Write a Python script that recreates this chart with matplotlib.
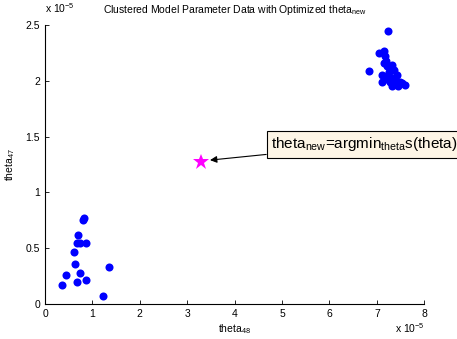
import matplotlib
matplotlib.use('Agg')
import matplotlib.pyplot as plt

plt.rcParams['font.family'] = ['Liberation Sans', 'DejaVu Sans']
plt.rcParams['mathtext.default'] = 'regular'

# values in units of 1e-5
theta48_a = [0.82, 0.81, 0.70, 0.67, 0.74, 0.86, 0.62, 0.63, 0.44, 0.74, 0.36, 0.68, 0.86, 1.34, 1.23]
theta47_a = [0.77, 0.75, 0.62, 0.55, 0.55, 0.55, 0.47, 0.36, 0.26, 0.28, 0.17, 0.20, 0.22, 0.33, 0.07]
theta48_b = [7.24, 6.84, 7.05, 7.15, 7.17, 7.14, 7.21, 7.31, 7.35, 7.10, 7.24, 7.42, 7.10, 7.28,
             7.49, 7.59, 7.31, 7.45, 7.38, 7.17, 7.26, 7.20, 7.33, 7.40, 7.52]
theta47_b = [2.45, 2.09, 2.25, 2.27, 2.22, 2.16, 2.13, 2.14, 2.10, 2.05, 2.05, 2.05, 1.99, 1.99,
             1.99, 1.96, 1.95, 1.95, 1.98, 2.02, 2.08, 2.18, 2.03, 2.00, 1.98]
theta_new = (3.29, 1.27)

fig = plt.figure(figsize=(4.57, 3.39), dpi=100)
ax = fig.add_axes([0.0985, 0.103, 0.83, 0.823])

ax.plot(theta48_a + theta48_b, theta47_a + theta47_b, 'o', color='#0000ff', markersize=5.8, markeredgewidth=0)
ax.plot([theta_new[0]], [theta_new[1]], '*', color='#ff00ff', markersize=12, markeredgewidth=0)

ax.set_xlim(0, 8)
ax.set_ylim(0, 2.5)
ax.set_xticks(range(0, 9))
ax.set_yticks([0, 0.5, 1, 1.5, 2, 2.5])
ax.set_yticklabels(['0', '0.5', '1', '1.5', '2', '2.5'])
ax.spines['top'].set_visible(False)
ax.spines['right'].set_visible(False)
ax.tick_params(direction='in', labelsize=7.5, length=3, width=0.6)
for s in ['left', 'bottom']:
    ax.spines[s].set_linewidth(0.8)

ax.set_title('Clustered Model Parameter Data with Optimized theta$_{new}$', fontsize=7.5, pad=9)
ax.set_xlabel('theta$_{48}$', fontsize=7.5, labelpad=2)
ax.set_ylabel('theta$_{47}$', fontsize=7.5, labelpad=6)
fig.text(0.099, 0.955, 'x 10$^{-5}$', fontsize=7.5, va='bottom', ha='left')
fig.text(0.93, 0.012, 'x 10$^{-5}$', fontsize=7.5, va='bottom', ha='right')

ax.annotate('theta$_{new}$=argmin$_{theta}$s(theta)', xy=(3.48, 1.29), xytext=(4.77, 1.43),
            fontsize=11, va='center', ha='left',
            bbox=dict(boxstyle='square,pad=0.3', fc='#fdf5e6', ec='black', lw=0.8),
            arrowprops=dict(arrowstyle='-|>', color='black', lw=0.8, mutation_scale=10, shrinkA=0, shrinkB=0),
            annotation_clip=False)

fig.savefig('out.png', dpi=100)
